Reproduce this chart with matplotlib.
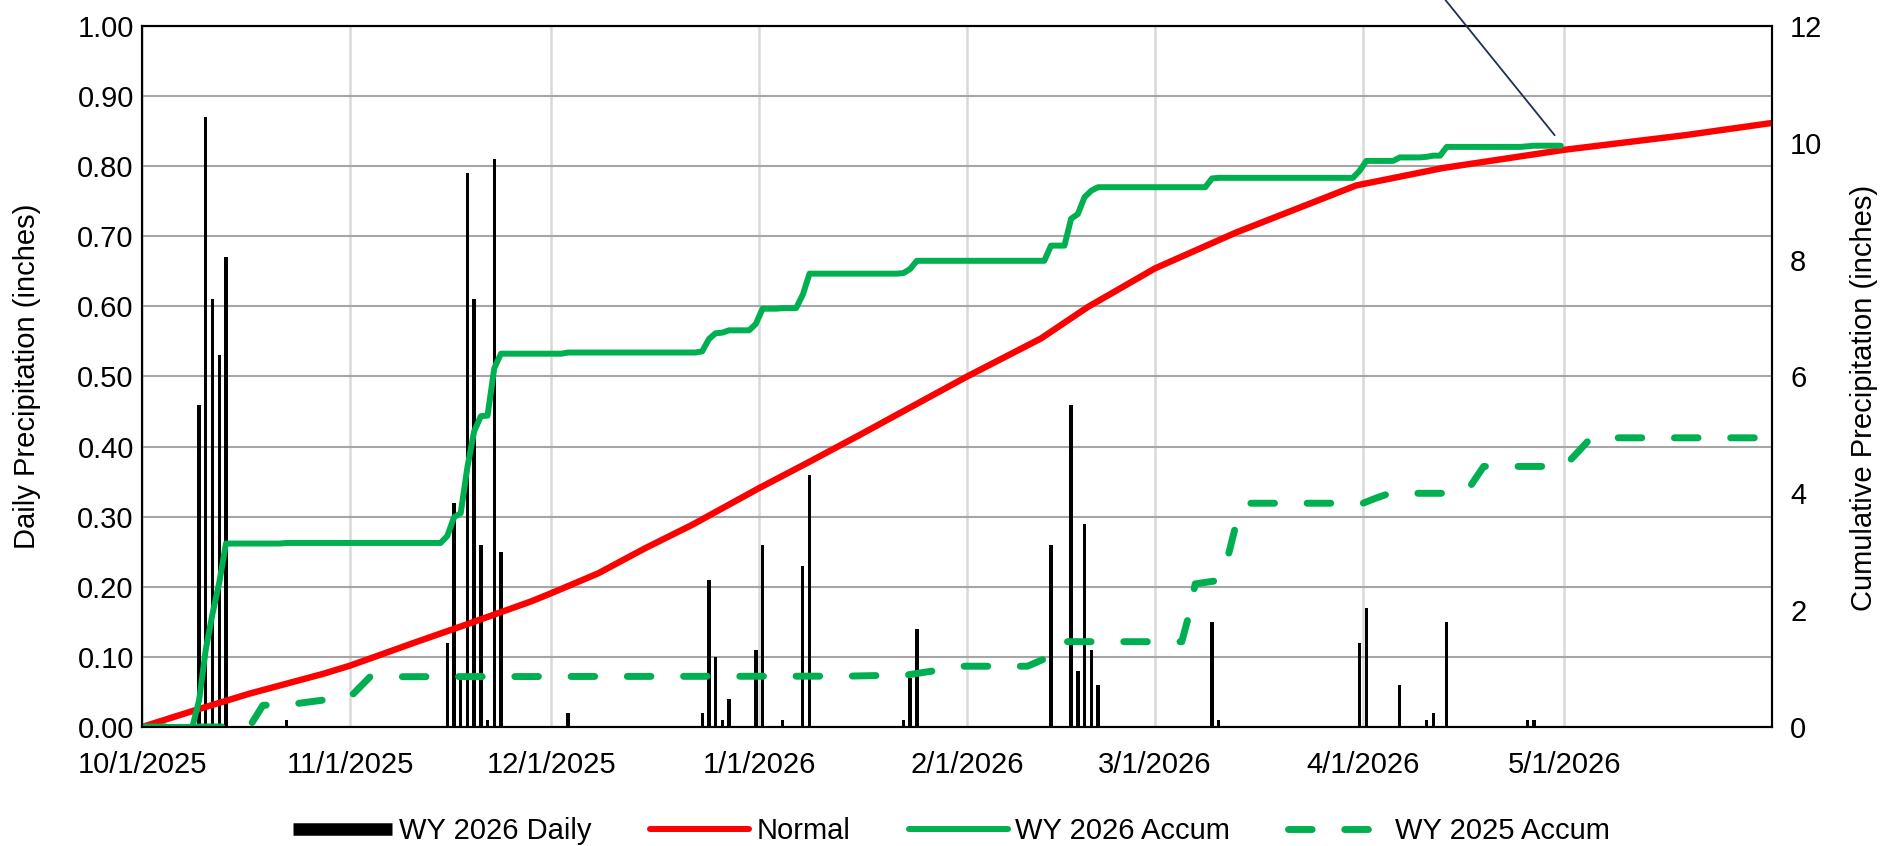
import numpy as np
import pandas as pd
import matplotlib
matplotlib.use('Agg')
import matplotlib.pyplot as plt
import matplotlib.dates as mdates
from matplotlib.lines import Line2D
from matplotlib.ticker import FormatStrFormatter

plt.rcParams['font.family'] = ['Liberation Sans', 'DejaVu Sans']

# daily precipitation, WY 2026 (inches)
daily_dates = ['2025-10-09', '2025-10-10', '2025-10-11', '2025-10-12', '2025-10-13', '2025-10-22',
               '2025-11-15', '2025-11-16', '2025-11-17', '2025-11-18', '2025-11-19', '2025-11-20',
               '2025-11-21', '2025-11-22', '2025-11-23', '2025-12-03',
               '2025-12-23', '2025-12-24', '2025-12-25', '2025-12-26', '2025-12-27', '2025-12-31',
               '2026-01-01', '2026-01-04', '2026-01-07', '2026-01-08', '2026-01-22', '2026-01-23',
               '2026-01-24', '2026-02-13', '2026-02-16', '2026-02-17', '2026-02-18', '2026-02-19',
               '2026-02-20', '2026-03-09', '2026-03-10', '2026-03-31', '2026-04-01', '2026-04-06',
               '2026-04-10', '2026-04-11', '2026-04-13', '2026-04-25', '2026-04-26']
daily_inches = [0.46, 0.87, 0.61, 0.53, 0.67, 0.01,
                0.12, 0.32, 0.07, 0.79, 0.61, 0.26,
                0.01, 0.81, 0.25, 0.02,
                0.02, 0.21, 0.10, 0.01, 0.04, 0.11,
                0.26, 0.01, 0.23, 0.36, 0.01, 0.07,
                0.14, 0.26, 0.46, 0.08, 0.29, 0.11,
                0.06, 0.15, 0.01, 0.12, 0.17, 0.06,
                0.01, 0.02, 0.15, 0.01, 0.01]

# normal cumulative precipitation (inches)
normal_dates = ['2025-10-01', '2025-10-09', '2025-10-17', '2025-10-28', '2025-11-01', '2025-11-11',
                '2025-11-18', '2025-11-28', '2025-12-01', '2025-12-08', '2025-12-15', '2025-12-22',
                '2026-01-01', '2026-01-08', '2026-01-16', '2026-02-01', '2026-02-12', '2026-02-19',
                '2026-03-01', '2026-03-13', '2026-03-23', '2026-03-31', '2026-04-13', '2026-05-01',
                '2026-05-19', '2026-06-01']
normal_accum = [0.0, 0.29, 0.57, 0.91, 1.05, 1.46,
                1.74, 2.15, 2.29, 2.63, 3.06, 3.46,
                4.09, 4.51, 5.00, 6.00, 6.65, 7.19,
                7.85, 8.46, 8.91, 9.27, 9.57, 9.88,
                10.13, 10.34]

# last water year's cumulative precipitation (inches)
wy2025_dates = ['2025-10-01', '2025-10-17', '2025-10-19', '2025-10-24', '2025-10-28', '2025-11-01',
                '2025-11-04', '2026-01-14', '2026-01-23', '2026-01-27', '2026-01-31', '2026-02-10',
                '2026-02-13', '2026-02-15', '2026-03-05', '2026-03-06', '2026-03-07', '2026-03-10',
                '2026-03-12', '2026-03-13', '2026-03-15', '2026-04-01', '2026-04-03', '2026-04-05',
                '2026-04-15', '2026-04-17', '2026-04-19', '2026-05-01', '2026-05-03', '2026-05-05',
                '2026-06-01']
wy2025_accum = [0.0, 0.0, 0.37, 0.40, 0.46, 0.51,
                0.86, 0.87, 0.89, 0.96, 1.04, 1.04,
                1.19, 1.46, 1.46, 1.89, 2.45, 2.50,
                2.97, 3.43, 3.83, 3.83, 3.92, 4.00,
                4.00, 4.12, 4.46, 4.46, 4.70, 4.95,
                4.95]

month_ticks = ['2025-10-01', '2025-11-01', '2025-12-01', '2026-01-01',
               '2026-02-01', '2026-03-01', '2026-04-01', '2026-05-01']
month_labels = ['10/1/2025', '11/1/2025', '12/1/2025', '1/1/2026',
                '2/1/2026', '3/1/2026', '4/1/2026', '5/1/2026']

season_start, season_end, accum_end = '2025-10-01', '2026-06-01', '2026-04-30'
callout_point = ('2026-04-29 14:00', 10.13)

RED = '#ff0000'
GREEN = '#00b050'
FS = 21

# running total of this year's daily values
days = pd.date_range(season_start, accum_end, freq='D')
daily = pd.Series(daily_inches, index=pd.to_datetime(daily_dates)).reindex(days, fill_value=0.0)
wy2026_accum = daily.cumsum()
half_day = pd.Timedelta(hours=12)

fig = plt.figure(figsize=(18.87, 8.46), dpi=100)
ax = fig.add_axes([0.0753, 0.1407, 0.8638, 0.8286])

ax.bar(mdates.date2num(pd.to_datetime(daily_dates) + half_day), daily_inches,
       width=0.5, color='black', zorder=2)
ax.set_ylim(0, 1.0)
ax.set_yticks(np.arange(0, 1.01, 0.1))
ax.yaxis.set_major_formatter(FormatStrFormatter('%.2f'))
ax.set_xlim(mdates.date2num(pd.Timestamp(season_start)), mdates.date2num(pd.Timestamp(season_end)))
ax.set_xticks(mdates.date2num(pd.to_datetime(month_ticks)), month_labels)
ax.grid(axis='y', color='#a6a6a6', lw=1.5)
ax.grid(axis='x', color='#d9d9d9', lw=1.8)
ax.set_axisbelow(True)
ax.tick_params(axis='both', length=0, labelsize=FS)
ax.tick_params(axis='y', pad=6)
ax.tick_params(axis='x', pad=17)
ax.set_ylabel('Daily Precipitation (inches)', fontsize=FS)
ax.yaxis.set_label_coords(-0.062, 0.5)

ax2 = ax.twinx()
ax2.plot(mdates.date2num(pd.to_datetime(normal_dates)), normal_accum,
         color=RED, lw=4.6, solid_capstyle='round', solid_joinstyle='round')
ax2.plot(mdates.date2num(days + half_day), wy2026_accum.values,
         color=GREEN, lw=4.3, solid_capstyle='round', solid_joinstyle='round')
ax2.plot(mdates.date2num(pd.to_datetime(wy2025_dates)), wy2025_accum,
         color=GREEN, lw=5, ls=(0, (3.4, 4.7)), dash_capstyle='round', dash_joinstyle='round')
ax2.set_ylim(0, 12)
ax2.set_yticks(range(0, 13, 2))
ax2.tick_params(axis='y', length=0, pad=13, labelsize=FS)
ax2.set_ylabel('Cumulative Precipitation (inches)', fontsize=FS)
ax2.yaxis.set_label_coords(1.048, 0.47)

for a in (ax, ax2):
    for sp in a.spines.values():
        sp.set_color('black')
        sp.set_linewidth(1.5)

# leader line of a callout that sits above the frame
ax2.annotate('', xy=(mdates.date2num(pd.Timestamp(callout_point[0])), callout_point[1]),
             xytext=(0.766, 1.0), textcoords='figure fraction',
             arrowprops=dict(arrowstyle='-', color='#1f3050', lw=1.3, shrinkA=0, shrinkB=0))

handles = [Line2D([], [], color='black', lw=9, solid_capstyle='butt'),
           Line2D([], [], color=RED, lw=4.3, solid_capstyle='round'),
           Line2D([], [], color=GREEN, lw=4.3, solid_capstyle='round'),
           Line2D([], [], color=GREEN, lw=5, ls=(0, (3.4, 4.7)), dash_capstyle='round')]
labels = ['WY 2026 Daily', 'Normal', 'WY 2026 Accum', 'WY 2025 Accum']
fig.legend(handles, labels, loc='lower center', bbox_to_anchor=(0.504, -0.03), ncol=4,
           frameon=False, fontsize=FS, handlelength=3.4, handletextpad=0.25, columnspacing=2.0)

fig.savefig('out.png', dpi=100)
